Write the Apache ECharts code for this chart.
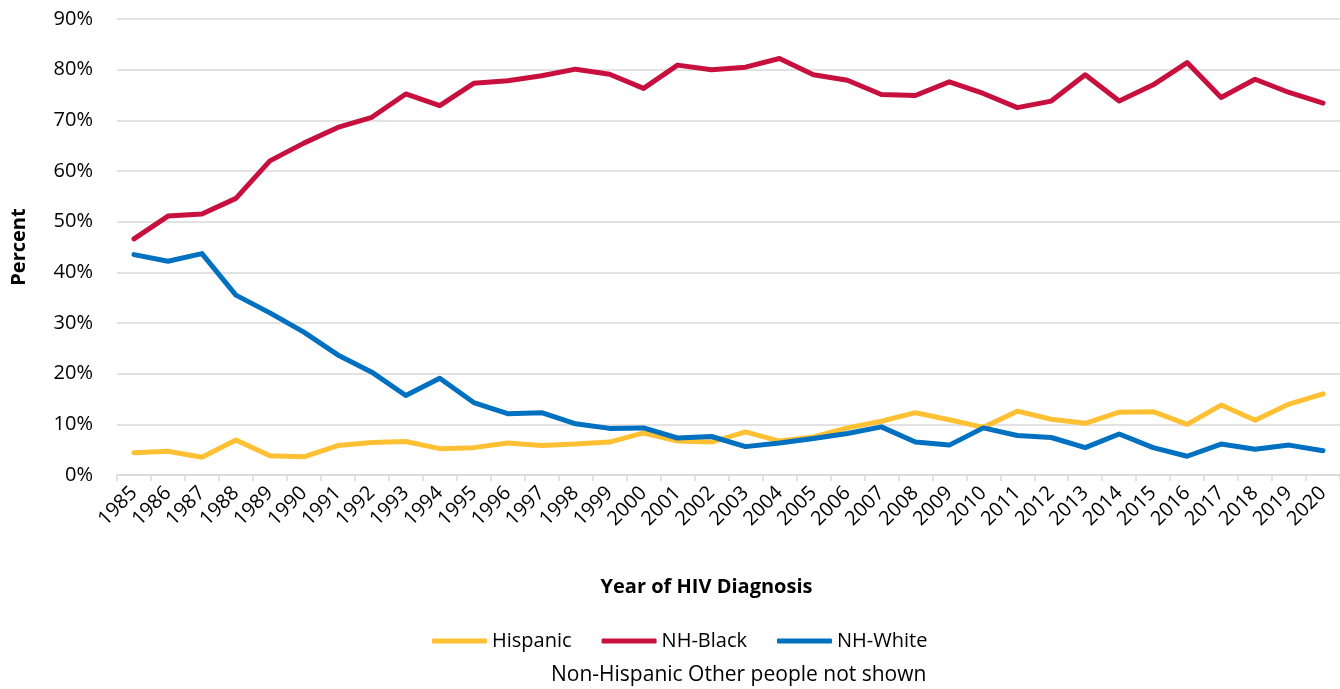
<!DOCTYPE html>
<html>
<head>
<meta charset="utf-8">
<script src="https://cdn.jsdelivr.net/npm/echarts@6/dist/echarts.min.js"></script>
<style>
html,body{margin:0;padding:0;background:#fff;}
#chart{width:1340px;height:689px;}
</style>
</head>
<body>
<div id="chart"></div>
<script>
const years = ['1985','1986','1987','1988','1989','1990','1991','1992','1993','1994','1995','1996','1997','1998','1999','2000','2001','2002','2003','2004','2005','2006','2007','2008','2009','2010','2011','2012','2013','2014','2015','2016','2017','2018','2019','2020'];
const hispanic = [4.4,4.7,3.5,6.9,3.8,3.6,5.8,6.4,6.6,5.2,5.4,6.3,5.8,6.1,6.5,8.3,6.7,6.5,8.5,6.7,7.5,9.3,10.6,12.3,10.9,9.4,12.6,11.0,10.2,12.4,12.5,10.0,13.8,10.8,14.0,16.0];
const nhBlack = [46.6,51.1,51.5,54.6,62.0,65.5,68.6,70.6,75.2,72.9,77.3,77.8,78.8,80.1,79.1,76.3,80.9,80.0,80.5,82.2,79.0,77.9,75.1,74.9,77.6,75.3,72.5,73.8,79.0,73.8,77.0,81.4,74.5,78.1,75.5,73.4];
const nhWhite = [43.5,42.2,43.7,35.5,32.0,28.2,23.7,20.3,15.7,19.1,14.3,12.1,12.3,10.1,9.2,9.3,7.3,7.6,5.6,6.3,7.2,8.2,9.5,6.5,5.9,9.3,7.8,7.4,5.4,8.1,5.4,3.7,6.1,5.1,5.9,4.8];
const yTicks = [0,10,20,30,40,50,60,70,80,90];
const seriesNames = ['Hispanic','NH-Black','NH-White'];
const colors = ['#FFC133','#C8103E','#0070C0'];
const footnote = 'Non-Hispanic Other people not shown';

const FONT = '"Open Sans", sans-serif';
const FS = 20;
const chart = echarts.init(document.getElementById('chart'));
const mk = (name, data, color) => ({
  name, type:'line', data, symbol:'none', smooth:false,
  lineStyle:{color, width:5, cap:'round', join:'round'},
  itemStyle:{color}
});
chart.setOption({
  animation:false,
  textStyle:{fontFamily:FONT},
  grid:{left:117, right:-8, top:19, bottom:214, containLabel:false},
  legend:{
    data:seriesNames, left:432, top:631, padding:0, itemWidth:55, itemHeight:5, itemGap:30,
    icon:'roundRect',
    textStyle:{fontFamily:FONT, fontSize:FS, color:'#000'}
  },
  graphic:[{type:'text', left:551, top:665, style:{text:footnote, font:'21px "Open Sans", sans-serif', fill:'#000'}}],
  xAxis:{
    type:'category', data:years, boundaryGap:true,
    name:'Year of HIV Diagnosis', nameLocation:'middle', nameGap:102,
    nameTextStyle:{fontFamily:FONT, fontSize:FS, fontWeight:'bold', color:'#000', padding:[0,44,0,0]},
    axisLine:{lineStyle:{color:'#d9d9d9', width:1.5}},
    axisTick:{show:true, length:6, alignWithLabel:false, lineStyle:{color:'#d9d9d9', width:1.5}},
    axisLabel:{rotate:45, interval:0, margin:15, fontFamily:FONT, fontSize:FS, color:'#000'},
    splitLine:{show:false}
  },
  yAxis:{
    type:'value', min:yTicks[0], max:yTicks[yTicks.length-1], interval:10,
    name:'Percent', nameLocation:'middle', nameGap:88, nameRotate:90,
    nameTextStyle:{fontFamily:FONT, fontSize:FS, fontWeight:'bold', color:'#000'},
    axisLine:{show:false}, axisTick:{show:false},
    axisLabel:{formatter:v=>v+'%', margin:24, fontFamily:FONT, fontSize:FS, color:'#000'},
    splitLine:{lineStyle:{color:'#d9d9d9', width:1.5}}
  },
  series:[mk(seriesNames[0], hispanic, colors[0]), mk(seriesNames[1], nhBlack, colors[1]), mk(seriesNames[2], nhWhite, colors[2])]
});
</script>
</body>
</html>
